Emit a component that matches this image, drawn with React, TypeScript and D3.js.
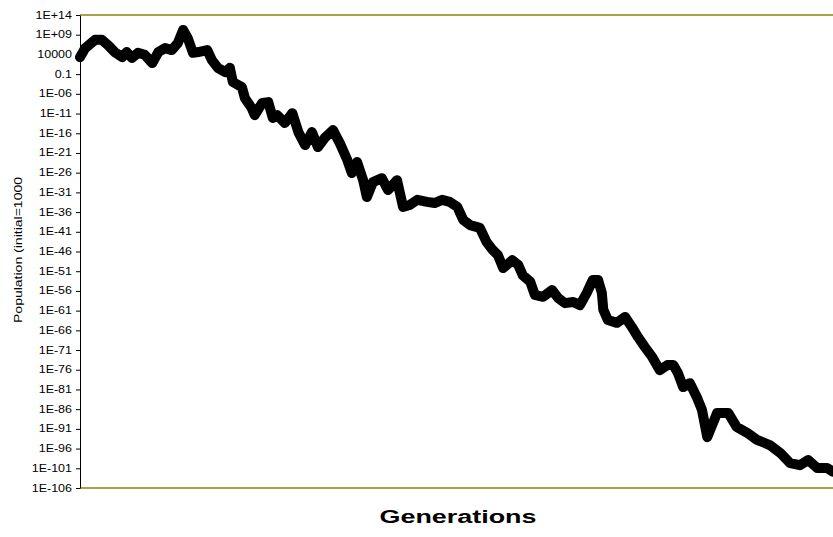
import React, { useEffect, useRef } from 'react';
import * as d3 from 'd3';

// generation number (x) and log10 of population (y)
const generations: number[] = [
  0, 7, 20, 29, 37, 46, 56, 62, 69, 77, 86, 96, 104, 113, 122, 130, 137, 143, 150, 157,
  169, 175, 183, 193, 199, 203, 215, 219, 228, 232, 242, 250, 256, 262, 272, 282, 290, 299, 308, 316,
  325, 336, 345, 355, 361, 368, 376, 381, 389, 401, 409, 421, 429, 438, 448, 461, 471, 481, 491, 501,
  509, 518, 531, 540, 548, 555, 562, 574, 582, 588, 598, 604, 615, 627, 635, 644, 655, 664, 673, 681,
  688, 693, 695, 701, 713, 724, 733, 741, 750, 760, 770, 780, 788, 794, 801, 810, 819, 826, 833, 846,
  861, 872, 886, 899, 916, 930, 943, 956, 967, 979, 992, 1000,
];
const logPopulation: number[] = [
  3.3, 5.6, 7.7, 7.7, 6.4, 4.6, 3.3, 4.6, 3.1, 4.4, 3.9, 1.8, 4.6, 5.6, 5.1, 6.9, 10.2, 8.2, 4.4, 4.6,
  5.1, 2.6, 0.6, -0.5, 0.6, -3.0, -4.3, -7.1, -9.6, -11.4, -8.3, -8.1, -12.1, -11.4, -13.4, -10.9, -15.7, -19.0, -15.7, -19.5,
  -17.2, -15.2, -18.5, -22.8, -26.1, -23.3, -27.9, -32.2, -28.4, -27.4, -30.4, -27.9, -34.7, -34.2, -32.9, -33.4, -33.7, -32.9, -33.4, -34.7,
  -38.0, -39.3, -40.0, -43.6, -45.6, -46.9, -50.2, -48.2, -49.4, -52.0, -53.7, -57.0, -57.5, -55.8, -57.8, -59.1, -58.8, -59.6, -56.5, -53.2,
  -53.2, -56.5, -60.8, -63.4, -64.1, -62.6, -65.2, -67.7, -70.2, -72.8, -76.1, -74.8, -74.8, -76.8, -80.4, -79.4, -82.9, -86.2, -93.1, -87.0,
  -87.0, -90.5, -92.0, -93.8, -95.1, -97.1, -99.7, -100.2, -98.9, -100.9, -100.9, -101.9,
];
// tick exponents, every 5 decades
const tickExponents: number[] = d3.range(14, -107, -5);

const tickLabel = (e: number) => {
  if (e === 4) return '10000';
  if (e === -1) return '0.1';
  const a = Math.abs(e);
  return '1E' + (e < 0 ? '-' : '+') + (a < 10 ? '0' + a : String(a));
};

const App = () => {
  const ref = useRef<SVGSVGElement>(null);

  useEffect(() => {
    const svg = d3.select(ref.current);
    svg.selectAll('*').remove();

    const left = 80;
    const right = 833;
    const top = 15;
    const bottom = 488;

    const x = d3.scaleLinear().domain([0, 1000]).range([left, right]);
    const y = d3.scaleLinear().domain([14, -106]).range([top, bottom]);

    // plot frame lines (olive)
    svg.append('line').attr('x1', left).attr('x2', right).attr('y1', top).attr('y2', top)
      .attr('stroke', '#a5a54a').attr('stroke-width', 2);
    svg.append('line').attr('x1', left).attr('x2', right).attr('y1', bottom).attr('y2', bottom)
      .attr('stroke', '#a5a54a').attr('stroke-width', 2);

    // Y axis
    const axis = svg.append('g').attr('transform', 'translate(' + left + ',0)')
      .call(d3.axisLeft(y).tickValues(tickExponents).tickSize(4).tickSizeOuter(0).tickFormat(() => ''));
    axis.select('.domain').attr('stroke', '#000');
    axis.selectAll('.tick line').attr('stroke', '#000');

    svg.append('g')
      .selectAll('text')
      .data(tickExponents)
      .enter()
      .append('text')
      .attr('transform', (d) => 'translate(72,' + (y(d) + 3.5) + ') scale(1.25,1)')
      .attr('text-anchor', 'end')
      .attr('font-family', 'Arial, "Liberation Sans", sans-serif')
      .attr('font-size', 10)
      .attr('fill', '#000')
      .text((d) => tickLabel(d));

    // the series
    const pts = generations.map((g, i) => [g, logPopulation[i]] as [number, number]);
    const line = d3.line<[number, number]>().x((d) => x(d[0])).y((d) => y(d[1]));
    svg.append('path')
      .datum(pts)
      .attr('fill', 'none')
      .attr('stroke', '#000')
      .attr('stroke-width', 10)
      .attr('stroke-linejoin', 'round')
      .attr('stroke-linecap', 'round')
      .attr('d', line);

    // axis titles
    svg.append('text')
      .attr('transform', 'translate(22,250) rotate(-90)')
      .attr('text-anchor', 'middle')
      .attr('font-family', 'Arial, "Liberation Sans", sans-serif')
      .attr('font-size', 11)
      .attr('textLength', 146)
      .attr('lengthAdjust', 'spacingAndGlyphs')
      .attr('fill', '#000')
      .text('Population (initial=1000');

    svg.append('text')
      .attr('x', 458)
      .attr('y', 523)
      .attr('text-anchor', 'middle')
      .attr('font-family', 'Arial, "Liberation Sans", sans-serif')
      .attr('font-size', 18)
      .attr('font-weight', 'bold')
      .attr('textLength', 157)
      .attr('lengthAdjust', 'spacingAndGlyphs')
      .attr('fill', '#000')
      .text('Generations');
  }, []);

  return (
    <svg
      ref={ref}
      width={833}
      height={537}
      style={{ position: 'absolute', left: 0, top: 0, background: '#fff' }}
    />
  );
};

export default App;
